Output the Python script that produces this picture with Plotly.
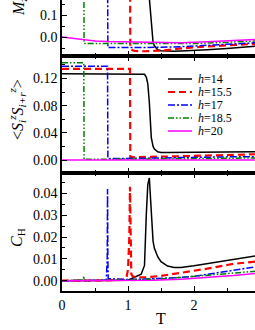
import plotly.graph_objects as go

# ---------------- data ----------------
# h = 14 (black)
T_h14 = [0, 0.5, 1.0, 1.2, 1.25, 1.277, 1.30, 1.323, 1.34, 1.353, 1.38, 1.40, 1.45, 1.5, 1.6, 1.7, 1.8, 2.0, 2.2, 2.5, 2.8, 2.95]
M_h14 = [0.333, 0.333, 0.333, 0.333, 0.332, 0.32, 0.26, 0.17, 0.09, 0.04, -0.025, -0.04, -0.058, -0.062, -0.065, -0.065, -0.064, -0.062, -0.058, -0.052, -0.045, -0.041]
S_h14 = [0.127, 0.127, 0.127, 0.127, 0.126, 0.122, 0.112, 0.085, 0.05, 0.033, 0.02, 0.016, 0.012, 0.011, 0.011, 0.011, 0.011, 0.011, 0.011, 0.0115, 0.012, 0.012]
C_h14 = [0.0, 0.0, 0.0002, 0.003, 0.007, 0.030, 0.044, 0.047, 0.038, 0.030, 0.018, 0.0148, 0.011, 0.0087, 0.0067, 0.006, 0.006, 0.0068, 0.0078, 0.0095, 0.0108, 0.0114]

# h = 15.5 (red)
T_h155 = [0, 0.5, 0.95, 0.98, 1.0, 1.02, 1.03, 1.035, 1.04, 1.05, 1.07, 1.1, 1.2, 1.3, 1.5, 1.8, 2.0, 2.2, 2.5, 2.6, 2.95]
M_h155 = [0.333, 0.333, 0.333, 0.333, 0.333, 0.333, 0.333, -0.04, -0.05, -0.056, -0.06, -0.063, -0.065, -0.065, -0.062, -0.052, -0.047, -0.043, -0.038, -0.036, -0.031]
S_h155 = [0.134, 0.134, 0.134, 0.134, 0.134, 0.134, 0.134, 0.004, 0.004, 0.004, 0.004, 0.004, 0.0045, 0.0048, 0.005, 0.0055, 0.006, 0.0065, 0.007, 0.0075, 0.0085]
C_h155 = [0.0, 0.0, 0.0005, 0.002, 0.005, 0.02, 0.043, 0.02, 0.005, 0.003, 0.002, 0.0018, 0.0015, 0.0016, 0.0022, 0.0035, 0.0044, 0.0055, 0.0072, 0.0077, 0.0088]

# h = 17 (blue)
T_h17 = [0, 0.4, 0.67, 0.685, 0.69, 0.695, 0.70, 1.0, 1.3, 1.5, 1.8, 2.0, 2.4, 2.5, 2.95]
M_h17 = [0.333, 0.333, 0.333, 0.333, 0.333, -0.048, -0.048, -0.049, -0.048, -0.047, -0.044, -0.041, -0.034, -0.032, -0.026]
S_h17 = [0.138, 0.138, 0.138, 0.138, 0.138, 0.002, 0.002, 0.0022, 0.0025, 0.003, 0.0035, 0.004, 0.0045, 0.0046, 0.005]
C_h17 = [0.0, 0.0, 0.0002, 0.01, 0.042, 0.01, 0.001, 0.0005, 0.0008, 0.001, 0.0015, 0.002, 0.0038, 0.0044, 0.0064]

# h = 18.5 (green)
T_h185 = [0, 0.2, 0.32, 0.33, 0.335, 0.4, 1.0, 1.5, 1.8, 2.0, 2.4, 2.95]
M_h185 = [0.333, 0.333, 0.333, 0.333, -0.029, -0.029, -0.030, -0.031, -0.032, -0.030, -0.025, -0.018]
S_h185 = [0.143, 0.143, 0.143, 0.143, 0.001, 0.001, 0.0012, 0.0015, 0.0018, 0.002, 0.0025, 0.003]
C_h185 = [0.0, 0.0, 0.0003, 0.002, 0.0003, 0.0, 0.0003, 0.0008, 0.0015, 0.002, 0.003, 0.0044]

# h = 20 (magenta)
T_h20 = [0, 0.1, 0.2, 0.3, 0.5, 0.7, 1.0, 1.4, 1.8, 2.2, 2.6, 2.95]
M_h20 = [0.0, -0.004, -0.009, -0.013, -0.018, -0.021, -0.023, -0.025, -0.026, -0.022, -0.016, -0.011]
S_h20 = [0.0, 0.0, 0.0, 0.0, 0.0, 0.0, 0.0, 0.0, 0.0, 0.0, 0.0, 0.0]
C_h20 = [0.0, 0.0, 0.0, 0.0, 0.0, 0.0, 0.0, 0.0002, 0.0007, 0.0015, 0.0024, 0.0034]

series_names = ["h=14", "h=15.5", "h=17", "h=18.5", "h=20"]
x_tick_vals = [0, 1, 2]
x_tick_text = ["0", "1", "2"]

# ---------------- styles ----------------
styles = [
    dict(color="#000000", width=1.5, dash="solid"),
    dict(color="#FF0000", width=2.2, dash="7px,4px"),
    dict(color="#0000FF", width=1.5, dash="7px,2px,2px,2px"),
    dict(color="#008000", width=1.5, dash="6px,2px,1.5px,2px,1.5px,2px"),
    dict(color="#FF00FF", width=1.5, dash="solid"),
]

Ts = [T_h14, T_h155, T_h17, T_h185, T_h20]
Ms = [M_h14, M_h155, M_h17, M_h185, M_h20]
Ss = [S_h14, S_h155, S_h17, S_h185, S_h20]
Cs = [C_h14, C_h155, C_h17, C_h185, C_h20]

W, H = 255, 330
ML, MR, MT, MB = 62, 0, 0, 39
PW, PH = W - ML - MR, H - MT - MB


def px(xp):
    return (xp - ML) / PW


def py(yp):
    return (PH - (yp - MT)) / PH


FONT = "Liberation Serif, Times New Roman, serif"

fig = go.Figure()
for i in range(5):
    for vals, xa, ya in [(Ms[i], "x", "y"), (Ss[i], "x2", "y2"), (Cs[i], "x3", "y3")]:
        fig.add_trace(go.Scatter(x=Ts[i], y=vals, mode="lines", line=styles[i],
                                 xaxis=xa, yaxis=ya, showlegend=False, name=series_names[i],
                                 cliponaxis=True))

b1, b2 = 56, 173
dom1 = [py(b1), 1.0]
dom2 = [py(b2), py(b1)]
dom3 = [0.0, py(b2)]

xrange_ = [0, (W - ML) / 66.0]

common_x = dict(range=xrange_, showline=True, linecolor="black", linewidth=1.5,
                ticks="inside", ticklen=5, tickwidth=1.2, tickcolor="black",
                tickvals=x_tick_vals, showgrid=False, zeroline=False,
                minor=dict(dtick=0.5, tick0=0, ticks="inside", ticklen=3, tickwidth=1.2, tickcolor="black"),
                tickfont=dict(family=FONT, size=14, color="black"))
common_y = dict(showline=True, linecolor="black", linewidth=1.5, ticks="inside", ticklen=5,
                tickwidth=1.2, tickcolor="black", showgrid=False, zeroline=False,
                tickfont=dict(family=FONT, size=14, color="black"))

fig.update_layout(
    width=W, height=H, margin=dict(l=ML, r=MR, t=MT, b=MB, pad=0),
    paper_bgcolor="white", plot_bgcolor="white", showlegend=False,
    xaxis=dict(**common_x, domain=[0, 1], anchor="y", showticklabels=False, mirror=False),
    xaxis2=dict(**common_x, domain=[0, 1], anchor="y2", showticklabels=False, mirror="ticks"),
    xaxis3=dict(**common_x, domain=[0, 1], anchor="y3", showticklabels=True, mirror="ticks",
                ticktext=x_tick_text),
    yaxis=dict(**common_y, domain=dom1, anchor="x", range=[-(b1 - 37) / 220.0, 37 / 220.0],
               dtick=0.1, tick0=0, tickformat=".1f",
               minor=dict(dtick=0.05, ticks="inside", ticklen=3, tickcolor="black")),
    yaxis2=dict(**common_y, domain=dom2, anchor="x2", range=[-(b2 - 160) / 680.0, (160 - b1) / 680.0],
                dtick=0.04, tick0=0, tickformat=".2f",
                minor=dict(dtick=0.02, ticks="inside", ticklen=3, tickcolor="black")),
    yaxis3=dict(**common_y, domain=dom3, anchor="x3", range=[-(291 - 280.7) / 2185.0, (280.7 - b2) / 2185.0],
                dtick=0.01, tick0=0, tickformat=".2f",
                minor=dict(dtick=0.005, ticks="inside", ticklen=3, tickcolor="black")),
)

ann_font = dict(family=FONT, size=16, color="black")
annotations = [
    dict(text="<i>M</i><sub>z</sub>", x=px(19), y=py(7), textangle=-90),
    dict(text="&lt;<i>S</i><sub><i>i</i></sub><sup><i>z</i></sup><i>S</i><sub><i>i+r</i></sub><sup><i>z</i></sup>&gt;",
         x=px(17), y=py(110), textangle=-90),
    dict(text="<i>C</i><sub>H</sub>", x=px(17), y=py(238), textangle=-90),
    dict(text="T", x=px(161), y=py(318), textangle=0),
]
for a in annotations:
    fig.add_annotation(xref="paper", yref="paper", xanchor="center", yanchor="middle",
                       showarrow=False, font=ann_font, **a)

# manual legend in panel 2
for i, name in enumerate(series_names):
    yy = 79 + 13 * i
    fig.add_shape(type="line", xref="paper", yref="paper", x0=px(168), x1=px(192), y0=py(yy), y1=py(yy),
                  line=styles[i])
    fig.add_annotation(xref="paper", yref="paper", x=px(196), y=py(yy), xanchor="left", yanchor="middle",
                       showarrow=False, text="<i>h</i>=" + name.split("=")[1],
                       font=dict(family=FONT, size=12, color="black"))

fig.write_html("out.html", config={"displayModeBar": False},
               post_script="document.body.style.margin='0';document.body.style.overflow='hidden';")
